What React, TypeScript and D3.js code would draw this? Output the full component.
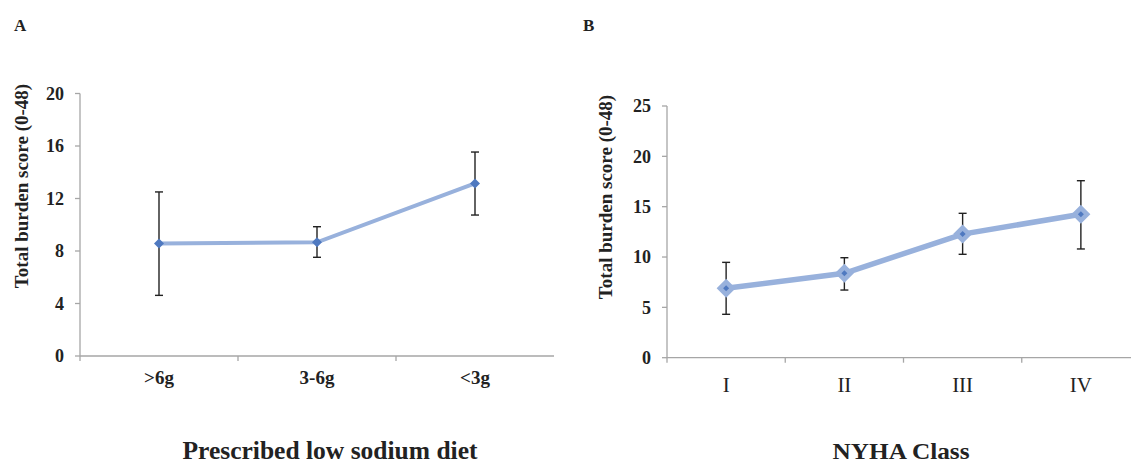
import React from "react";
import * as d3 from "d3";

const W = 1131;
const H = 466;

// Panel A: prescribed low sodium diet
const dietCats = [">6g", "3-6g", "<3g"];
const dietMean = [8.58, 8.66, 13.15];
const dietLow = [4.62, 7.52, 10.74];
const dietHigh = [12.5, 9.85, 15.54];
const dietTicks = [0, 4, 8, 12, 16, 20];

// Panel B: NYHA class
const nyhaCats = ["I", "II", "III", "IV"];
const nyhaMean = [6.9, 8.38, 12.28, 14.24];
const nyhaLow = [4.31, 6.72, 10.27, 10.8];
const nyhaHigh = [9.47, 9.93, 14.34, 17.58];
const nyhaTicks = [0, 5, 10, 15, 20, 25];

const FONT = "'Liberation Serif', 'Times New Roman', serif";
const AXIS = "#a6a6a6";
const LINE = "#98b1dc";
const DOT = "#4f79c0";

interface PanelProps {
  cats: string[];
  mean: number[];
  low: number[];
  high: number[];
  ticks: number[];
  x0: number;
  x1: number;
  y0: number;
  y1: number;
  big: boolean;
  catBold: boolean;
  catSize: number;
  catDy: number;
  yTitleX: number;
  yTitleY: number;
}

function Panel(p: PanelProps) {
  const x = d3.scaleBand<string>().domain(p.cats).range([p.x0, p.x1]);
  const y = d3.scaleLinear().domain([0, p.ticks[p.ticks.length - 1]]).range([p.y0, p.y1]);
  const cx = (c: string) => (x(c) || 0) + x.bandwidth() / 2;
  const line = d3.line<number>().x((_, i) => cx(p.cats[i])).y(d => y(d));
  const boundaries = p.cats.slice(1).map(c => x(c) || 0);

  return (
    <g>
      {/* axes */}
      <line x1={p.x0} x2={p.x0} y1={y(p.ticks[p.ticks.length - 1])} y2={p.y0} stroke={AXIS} strokeWidth={1.3} />
      <line x1={p.x0} x2={p.x1} y1={p.y0} y2={p.y0} stroke={AXIS} strokeWidth={1.3} />
      {p.ticks.map(t => (
        <g key={t}>
          <line x1={p.x0 - 5} x2={p.x0} y1={y(t)} y2={y(t)} stroke={AXIS} strokeWidth={1.3} />
          <text x={p.x0 - 16} y={y(t)} dy="0.35em" textAnchor="end" fontFamily={FONT} fontWeight="bold" fontSize={18} fill="#222">{t}</text>
        </g>
      ))}
      {[p.x0, ...boundaries].map((b, i) => (
        <line key={i} x1={b} x2={b} y1={p.y0} y2={p.y0 + 5} stroke={AXIS} strokeWidth={1.3} />
      ))}
      {p.cats.map(c => (
        <text key={c} x={cx(c)} y={p.y0 + p.catDy} textAnchor="middle" fontFamily={FONT} fontWeight={p.catBold ? "bold" : "normal"} fontSize={p.catSize} fill="#222">{c}</text>
      ))}
      <text transform={`translate(${p.yTitleX},${p.yTitleY}) rotate(-90)`} textAnchor="middle" fontFamily={FONT} fontWeight="bold" fontSize={19} fill="#222">Total burden score (0-48)</text>

      {/* series line */}
      <path d={line(p.mean) || ""} fill="none" stroke={LINE} strokeWidth={p.big ? 5.5 : 4} />

      {/* error bars */}
      {p.cats.map((c, i) => (
        <g key={c} stroke="#222" strokeWidth={1.4}>
          <line x1={cx(c)} x2={cx(c)} y1={y(p.high[i])} y2={y(p.low[i])} />
          <line x1={cx(c) - 4} x2={cx(c) + 4} y1={y(p.high[i])} y2={y(p.high[i])} />
          <line x1={cx(c) - 4} x2={cx(c) + 4} y1={y(p.low[i])} y2={y(p.low[i])} />
        </g>
      ))}

      {/* markers */}
      {p.cats.map((c, i) => {
        const px = cx(c);
        const py = y(p.mean[i]);
        if (p.big) {
          const r = 9.5;
          const s = 3;
          return (
            <g key={c}>
              <path d={`M${px},${py - r}L${px + r},${py}L${px},${py + r}L${px - r},${py}Z`} fill={LINE} />
              <path d={`M${px},${py - s}L${px + s},${py}L${px},${py + s}L${px - s},${py}Z`} fill={DOT} />
            </g>
          );
        }
        const r = 5;
        return <path key={c} d={`M${px},${py - r}L${px + r},${py}L${px},${py + r}L${px - r},${py}Z`} fill={DOT} />;
      })}
    </g>
  );
}

export default function App() {
  return (
    <svg width={W} height={H} style={{ position: "absolute", left: 0, top: 0, background: "#fff" }}>
      <text x={14} y={31} fontFamily={FONT} fontWeight="bold" fontSize={17} fill="#222">A</text>
      <text x={583} y={31} fontFamily={FONT} fontWeight="bold" fontSize={17} fill="#222">B</text>

      <Panel cats={dietCats} mean={dietMean} low={dietLow} high={dietHigh} ticks={dietTicks}
        x0={80} x1={554} y0={356} y1={93.5} big={false} catBold={true} catSize={19} catDy={28}
        yTitleX={28} yTitleY={186} />
      <Panel cats={nyhaCats} mean={nyhaMean} low={nyhaLow} high={nyhaHigh} ticks={nyhaTicks}
        x0={667} x1={1140} y0={357.7} y1={106} big={true} catBold={false} catSize={21} catDy={34}
        yTitleX={612} yTitleY={197} />

      <text x={330} y={459} textAnchor="middle" fontFamily={FONT} fontWeight="bold" fontSize={25}
        textLength={295} lengthAdjust="spacingAndGlyphs" fill="#222">Prescribed low sodium diet</text>
      <text x={901} y={459} textAnchor="middle" fontFamily={FONT} fontWeight="bold" fontSize={24}
        textLength={137} lengthAdjust="spacingAndGlyphs" fill="#222">NYHA Class</text>
    </svg>
  );
}
